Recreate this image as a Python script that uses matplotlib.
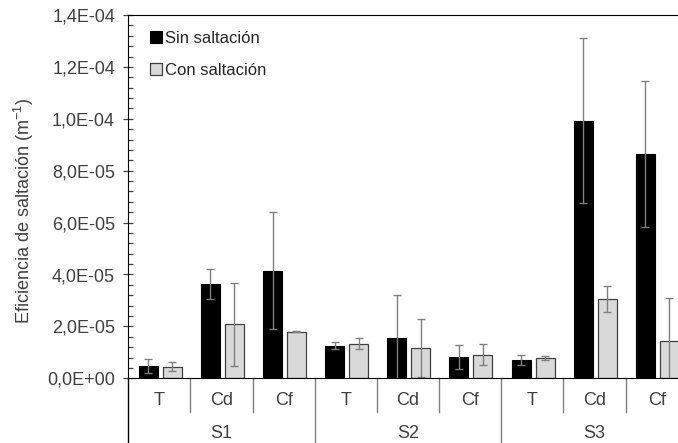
import matplotlib
matplotlib.use("Agg")
import matplotlib.pyplot as plt
import matplotlib.transforms as mtransforms
import numpy as np

plt.rcParams['font.family'] = ['Liberation Sans', 'DejaVu Sans']

# Data
groups = ["S1", "S2", "S3"]
treatments = ["T", "Cd", "Cf"]
sin_saltacion = [4.7e-6, 3.65e-5, 4.15e-5, 1.26e-5, 1.55e-5, 8.3e-6, 7.1e-6, 9.93e-5, 8.64e-5]
sin_err = [2.8e-6, 5.8e-6, 2.26e-5, 1.2e-6, 1.67e-5, 4.6e-6, 1.85e-6, 3.18e-5, 2.82e-5]
con_saltacion = [4.5e-6, 2.09e-5, 1.8e-5, 1.33e-5, 1.17e-5, 9.1e-6, 7.9e-6, 3.06e-5, 1.43e-5]
con_err = [1.6e-6, 1.6e-5, 2.5e-7, 2.2e-6, 1.13e-5, 4.0e-6, 8e-7, 4.9e-6, 1.68e-5]
ytick_values = [0, 2e-5, 4e-5, 6e-5, 8e-5, 1.0e-4, 1.2e-4, 1.4e-4]
ytick_labels = ["0,0E+00", "2,0E-05", "4,0E-05", "6,0E-05", "8,0E-05",
                "1,0E-04", "1,2E-04", "1,4E-04"]

W, H = 678, 443
FS = 13
fig = plt.figure(figsize=(W / 100, H / 100), dpi=100)
x0, x1 = 128.3, 687.7
y0, y1 = 378.3, 15.0
ax = fig.add_axes([x0 / W, 1 - y0 / H, (x1 - x0) / W, (y0 - y1) / H])

n = len(sin_saltacion)
centers = np.arange(n) + 0.5
bw = 0.305
err_kw = dict(ecolor="#7f7f7f", elinewidth=1.0, capsize=3.2, capthick=1.0)

ax.bar(centers - 0.18, sin_saltacion, bw, color="black", edgecolor="black",
       linewidth=0.8, yerr=sin_err, error_kw=err_kw, label="Sin saltación", zorder=2)
ax.bar(centers + 0.205, con_saltacion, bw, color="#d9d9d9", edgecolor="#404040",
       linewidth=0.9, yerr=con_err, error_kw=err_kw, label="Con saltación", zorder=2)

ax.set_xlim(0, n)
ax.set_ylim(0, 1.4e-4)
ax.set_yticks(ytick_values)
ax.set_yticklabels(ytick_labels)
ax.yaxis.set_minor_locator(matplotlib.ticker.MultipleLocator(4e-6))
ax.tick_params(axis="y", which="major", direction="inout", length=7, width=0.9,
               color="#404040", labelsize=FS, labelcolor="#404040", pad=6)
ax.tick_params(axis="y", which="minor", direction="in", length=3.5, width=0.9,
               color="#404040")
ax.set_xticks([])

ax.spines["right"].set_visible(False)
for side in ("top", "left", "bottom"):
    ax.spines[side].set_color("black")

# Category axis: labels and separators below the plot
trans = mtransforms.blended_transform_factory(ax.transData, ax.transAxes)
for i, c in enumerate(centers):
    ax.text(c, -0.062, treatments[i % 3], transform=trans, ha="center", va="center",
            fontsize=FS, color="#404040")
for g, name in enumerate(groups):
    ax.text(3 * g + 1.5, -0.153, name, transform=trans, ha="center", va="center",
            fontsize=FS, color="#404040")
for k in range(1, n):
    bottom = -0.2 if k % 3 == 0 else -0.093
    ax.plot([k, k], [0, bottom], transform=trans, color="#7f7f7f", lw=1.0,
            clip_on=False)
ax.plot([0, 0], [0, -0.2], transform=trans, color="black", lw=1.0, clip_on=False)

fig.text(24 / W, 1 - 211 / H, "Eficiencia de saltación (m$^{\\mathregular{-1}}$)",
         rotation=90, ha="center", va="center", fontsize=FS, color="#404040")

leg = ax.legend(loc="upper left", bbox_to_anchor=((143 - x0) / (x1 - x0), 1 - 9 / (y0 - y1)),
                frameon=False, fontsize=12, handlelength=0.75, handleheight=0.75,
                handletextpad=0.15, labelspacing=1.05, borderaxespad=0)
for t in leg.get_texts():
    t.set_color("#262626")

fig.savefig("out.png", dpi=100)
